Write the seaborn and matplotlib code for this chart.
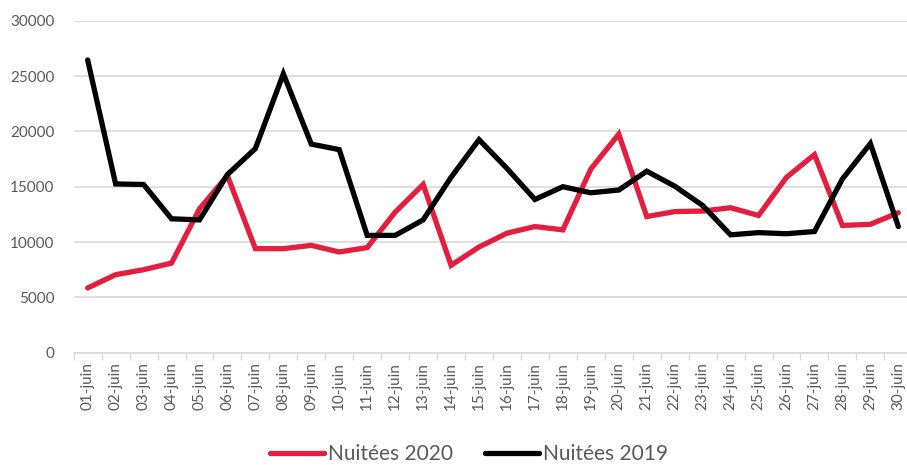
import numpy as np
import pandas as pd
import matplotlib
matplotlib.use("Agg")
import matplotlib.pyplot as plt
import seaborn as sns

days = [f"{d:02d}-juin" for d in range(1, 31)]

nuitees_2020 = [5850, 7050, 7500, 8100, 13000, 16000, 9400, 9400, 9700, 9100,
                9500, 12700, 15200, 7900, 9550, 10800, 11400, 11100, 16600, 19750,
                12300, 12750, 12800, 13100, 12400, 15850, 17900, 11500, 11600, 12650]

nuitees_2019 = [26450, 15250, 15200, 12100, 12000, 16100, 18450, 25200, 18850, 18350,
                10600, 10600, 12000, 15850, 19250, 16650, 13850, 15000, 14450, 14700,
                16400, 15050, 13300, 10650, 10850, 10750, 10950, 15700, 18900, 11400]

df = pd.DataFrame({
    "jour": days * 2,
    "x": list(range(30)) * 2,
    "valeur": nuitees_2020 + nuitees_2019,
    "serie": ["Nuitées 2020"] * 30 + ["Nuitées 2019"] * 30,
})

sns.set_theme(style="white")
plt.rcParams["font.family"] = ["Lato", "DejaVu Sans"]

grey_txt = "#595959"
fig = plt.figure(figsize=(9.07, 4.65), dpi=100)
ax = fig.add_axes([73.7 / 907, 1 - 352.7 / 465, (912.3 - 73.7) / 907, (352.7 - 20.7) / 465])

sns.lineplot(data=df, x="x", y="valeur", hue="serie",
             palette={"Nuitées 2020": "#E31E3F", "Nuitées 2019": "#000000"},
             linewidth=3.8, ax=ax, legend=True)
for ln in ax.lines:
    ln.set_solid_joinstyle("miter")
    ln.set_solid_capstyle("round")

ax.set_xlim(-0.5, 29.5)
ax.set_ylim(0, 30000)
ax.set_yticks(np.arange(0, 30001, 5000))
ax.yaxis.grid(True, color="#D9D9D9", linewidth=1.2)
ax.set_axisbelow(True)
ax.set_xticks(range(30))
ax.set_xticklabels(days, rotation=90)
ax.set_xticks(np.arange(-0.5, 30, 1), minor=True)
ax.tick_params(axis="x", which="major", length=0, pad=7, labelsize=11, labelcolor=grey_txt)
ax.tick_params(axis="x", which="minor", length=5, width=1, color="#D9D9D9", bottom=True)
ax.tick_params(axis="y", length=0, pad=14, labelsize=11, labelcolor=grey_txt)
ax.set_xlabel("")
ax.set_ylabel("")
for s in ["left", "right", "top"]:
    ax.spines[s].set_visible(False)
ax.spines["bottom"].set_color("#D9D9D9")
ax.spines["bottom"].set_linewidth(1.2)

leg = ax.legend(loc="center", bbox_to_anchor=(469 / 907, 1 - 454 / 465),
                bbox_transform=fig.transFigure, ncol=2, frameon=False,
                fontsize=15, handlelength=2.6, handletextpad=0.2, columnspacing=1.5)
for t in leg.get_texts():
    t.set_color(grey_txt)
for h in leg.get_lines():
    h.set_linewidth(3.8)

fig.savefig("out.png", dpi=100)
